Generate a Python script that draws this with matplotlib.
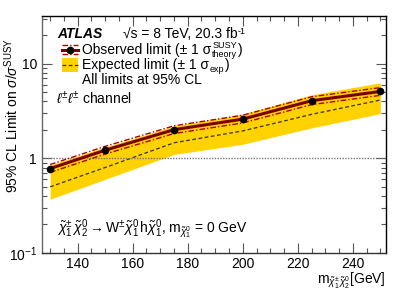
import numpy as np
import matplotlib
matplotlib.use("Agg")
import matplotlib.pyplot as plt
from matplotlib.ticker import MultipleLocator, LogLocator, NullFormatter, FixedFormatter, FixedLocator
from matplotlib.patches import Rectangle
from matplotlib.lines import Line2D

plt.rcParams['font.family'] = ['Liberation Sans', 'DejaVu Sans']
plt.rcParams['mathtext.fontset'] = 'custom'
plt.rcParams['mathtext.rm'] = 'Liberation Sans'
plt.rcParams['mathtext.it'] = 'Liberation Sans:italic'
plt.rcParams['mathtext.sf'] = 'Liberation Sans'

# masses (GeV)
mass = [130, 150, 175, 200, 225, 250]
# observed limit and theory variations
obs = [0.78, 1.22, 2.01, 2.6, 4.07, 5.1]
obs_up = [0.86, 1.34, 2.21, 2.86, 4.48, 5.6]
obs_dn = [0.71, 1.11, 1.83, 2.37, 3.7, 4.64]
# expected limit and +-1 sigma band
exp = [0.50, 0.80, 1.46, 1.95, 2.92, 4.14]
exp_up = [0.85, 1.32, 2.2, 2.94, 4.7, 6.3]
exp_dn = [0.37, 0.60, 1.1, 1.41, 2.1, 2.97]

yellow = '#ffd200'
dred = '#7a0000'
red = '#b00000'

fig = plt.figure(figsize=(4.07, 2.92), dpi=100)
ax = fig.add_axes([0.103, 0.134, 0.845, 0.811])

ax.fill_between(mass, exp_dn, exp_up, color=yellow, lw=0, zorder=1)
ax.plot(mass, exp, ls=(0, (3, 2)), color='#333333', lw=0.9, zorder=2)
ax.plot(mass, obs_up, ls=(0, (4, 1.5, 1, 1.5)), color=red, lw=1.0, zorder=3)
ax.plot(mass, obs_dn, ls=(0, (4, 1.5, 1, 1.5)), color=red, lw=1.0, zorder=3)
ax.plot(mass, obs, color=dred, lw=2.2, zorder=4)
ax.plot(mass, obs, 'o', color='black', ms=4.5, zorder=5)
ax.axhline(1, color='#777777', ls=(0, (1, 1)), lw=1.0, zorder=2)

ax.set_yscale('log')
ax.set_xlim(127, 252)
ax.set_ylim(0.1, 32)

ax.xaxis.set_major_locator(MultipleLocator(20))
ax.xaxis.set_minor_locator(MultipleLocator(5))
ax.yaxis.set_major_locator(FixedLocator([0.1, 1, 10]))
ax.yaxis.set_major_formatter(FixedFormatter([r'$10^{-1}$', '1', '10']))
ax.yaxis.set_minor_locator(LogLocator(base=10, subs=np.arange(2, 10)))
ax.yaxis.set_minor_formatter(NullFormatter())
ax.tick_params(which='both', direction='in', top=True, right=True, labelsize=10, color='#555555')
ax.tick_params(which='major', length=7, width=0.8)
ax.tick_params(which='minor', length=3.5, width=0.8)
ax.tick_params(axis='x', pad=3)
for s in ax.spines.values():
    s.set_linewidth(1.0)
ax.spines['left'].set_color('#666666')
ax.spines['bottom'].set_color('#333333')

ax.set_ylabel(r'95% CL Limit on $\sigma/\sigma^{\mathrm{SUSY}}$', fontsize=10)
ax.yaxis.set_label_coords(-0.062, 0.58)
fig.text(0.948, 0.005, r'$\mathrm{m}_{\tilde{\chi}_1^{\pm}\,\tilde{\chi}_2^0}$[GeV]', ha='right', va='bottom', fontsize=10)

tr = ax.transAxes
ax.text(0.045, 0.925, 'ATLAS', transform=tr, fontsize=10, fontweight='bold', style='italic', va='center')
s1 = ax.text(0.235, 0.925, '\u221as = 8 TeV, 20.3 fb', transform=tr, fontsize=10, va='center')
ax.annotate('-1', xy=(1, 1), xycoords=s1, xytext=(0.5, 0), textcoords='offset points',
            fontsize=6.5, va='top', ha='left')

# legend symbols drawn by hand
x0, x1 = 0.057, 0.105
yo, ye = 0.858, 0.793
ax.add_line(Line2D([x0, x1], [yo + 0.018, yo + 0.018], transform=tr, ls=(0, (4, 1.5, 1, 1.5)), color=red, lw=1.0))
ax.add_line(Line2D([x0, x1], [yo - 0.018, yo - 0.018], transform=tr, ls=(0, (4, 1.5, 1, 1.5)), color=red, lw=1.0))
ax.add_line(Line2D([x0, x1], [yo, yo], transform=tr, color=dred, lw=2.2))
ax.add_line(Line2D([(x0 + x1) / 2], [yo], transform=tr, marker='o', color='black', ms=4.5))
ax.add_patch(Rectangle((x0, ye - 0.028), x1 - x0, 0.056, transform=tr, color=yellow, lw=0))
ax.add_line(Line2D([x0, x1], [ye, ye], transform=tr, ls=(0, (3, 2)), color='#333333', lw=0.9))

# legend texts, with small sub/superscripts placed next to the main text
t1 = ax.text(0.117, yo, 'Observed limit (\u00b1 1 \u03c3', transform=tr, fontsize=10, va='center')
sup1 = ax.annotate('SUSY', xy=(1, 1), xycoords=t1, xytext=(0.5, 1.5), textcoords='offset points',
                   fontsize=6.5, va='top', ha='left')
sub1 = ax.annotate('theory', xy=(1, 0), xycoords=t1, xytext=(0.5, -1.5), textcoords='offset points',
                   fontsize=6.5, va='bottom', ha='left')
ax.annotate(')', xy=(1, 0), xycoords=(sub1, t1), xytext=(0.3, 0), textcoords='offset points',
            fontsize=10, va='bottom', ha='left')

t2 = ax.text(0.117, ye, 'Expected limit (\u00b1 1 \u03c3', transform=tr, fontsize=10, va='center')
sub2 = ax.annotate('exp', xy=(1, 0), xycoords=t2, xytext=(0.5, -1.5), textcoords='offset points',
                   fontsize=6.5, va='bottom', ha='left')
ax.annotate(')', xy=(1, 0), xycoords=(sub2, t2), xytext=(0.3, 0), textcoords='offset points',
            fontsize=10, va='bottom', ha='left')

ax.text(0.117, 0.728, 'All limits at 95% CL', transform=tr, fontsize=10, va='center')
ax.text(0.04, 0.652, r'$\ell^{\pm}\ell^{\pm}$ channel', transform=tr, fontsize=10, va='center')
ax.text(0.045, 0.1, r'$\tilde{\chi}_1^{\pm}\,\tilde{\chi}_2^0 \rightarrow \mathrm{W}^{\pm}\tilde{\chi}_1^0\,\mathrm{h}\tilde{\chi}_1^0$, $\mathrm{m}_{\tilde{\chi}_1^0}$ = 0 GeV',
        transform=tr, fontsize=10, va='center')

fig.savefig('out.png', dpi=100)
